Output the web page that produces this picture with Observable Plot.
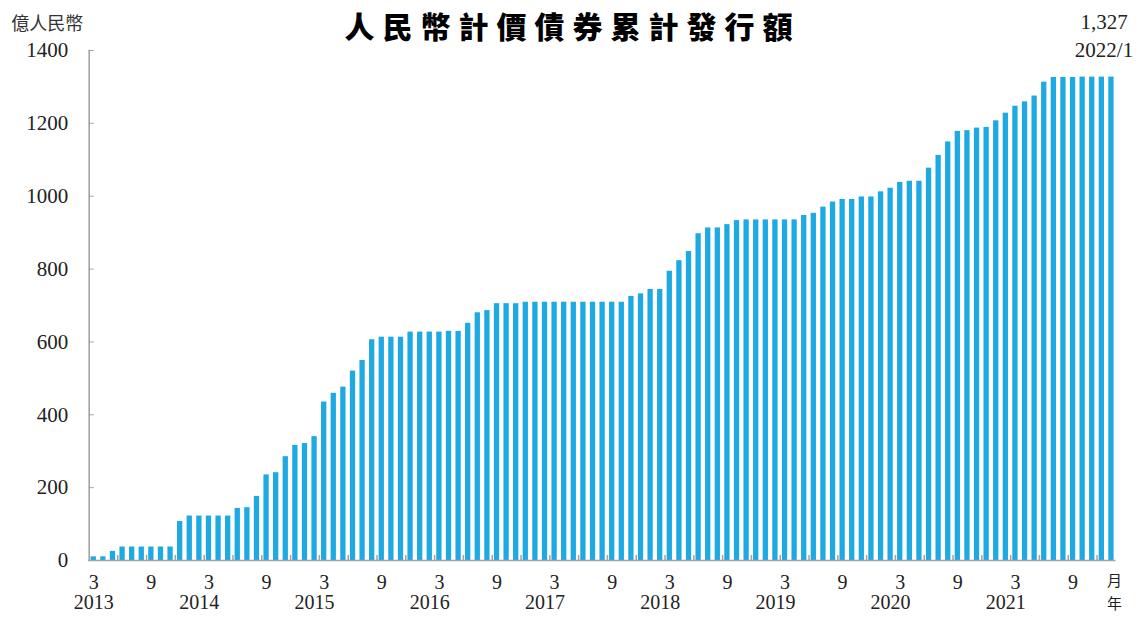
<!DOCTYPE html>
<html>
<head>
<meta charset="utf-8">
<script src="https://cdn.jsdelivr.net/npm/d3@7"></script>
<script src="https://cdn.jsdelivr.net/npm/@observablehq/plot@0.6"></script>
<style>
  html, body { margin: 0; padding: 0; background: #fff; }
  #chart { width: 1138px; height: 619px; overflow: hidden; }
</style>
</head>
<body>
<div id="chart"></div>
<script>
// Cumulative RMB-denominated bond issuance (億人民幣), monthly
const v2013 = [10, 10, 25, 37, 37, 37, 37, 37, 37, 107];            // Mar–Dec
const v2014 = [122, 122, 122, 122, 122, 143, 145, 176, 235, 241, 285, 316];
const v2015 = [321, 340, 435, 459, 476, 520, 549, 606, 613, 613, 613, 627];
const v2016 = [627, 627, 627, 629, 629, 651, 680, 686, 705, 705, 705, 709];
const v2017 = [709, 709, 709, 709, 709, 709, 709, 709, 709, 709, 725, 732];
const v2018 = [744, 744, 794, 823, 848, 897, 913, 913, 922, 933, 935, 935];
const v2019 = [935, 935, 935, 935, 947, 953, 970, 984, 991, 991, 998, 998];
const v2020 = [1012, 1022, 1038, 1041, 1041, 1077, 1112, 1149, 1178, 1180, 1187, 1189];
const v2021 = [1207, 1228, 1247, 1259, 1275, 1313, 1326, 1326, 1326, 1327, 1327, 1327];
const v2022 = [1327];                                                 // Jan

const seriesByYear = [
  [2013, 3, v2013], [2014, 1, v2014], [2015, 1, v2015], [2016, 1, v2016],
  [2017, 1, v2017], [2018, 1, v2018], [2019, 1, v2019], [2020, 1, v2020],
  [2021, 1, v2021], [2022, 1, v2022]
];

const yTicks = [0, 200, 400, 600, 800, 1000, 1200, 1400];
const monthLabelMonths = [3, 9];
const tickMonths = [3, 6, 9, 12];
const yearLabels = ["2013", "2014", "2015", "2016", "2017", "2018", "2019", "2020", "2021"];
const yearLabelKeys = ["2013/3", "2014/2", "2015/2", "2016/2", "2017/2", "2018/2", "2019/2", "2020/2", "2021/2"];

const titleText = "人民幣計價債券累計發行額";
const unitText = "億人民幣";
const lastValueText = "1,327";
const lastDateText = "2022/1";
const monthUnit = "月";
const yearUnit = "年";

const data = [];
for (const [yr, m0, vals] of seriesByYear) {
  vals.forEach((v, i) => data.push({year: yr, month: m0 + i, key: `${yr}/${m0 + i}`, value: v}));
}
const keys = data.map(d => d.key);
const monthLabelData = data.filter(d => monthLabelMonths.includes(d.month));
const tickData = data.filter((d, i) => i > 0 && tickMonths.includes(d.month));
const yearLabelData = yearLabels.map((t, i) => ({text: t, key: yearLabelKeys[i]}));

const serif = "'Liberation Serif', 'Times New Roman', serif";
const cjk = "'Noto Sans CJK TC', 'Noto Sans CJK SC', sans-serif";
const axisGray = "#a3a3a3";
const barColor = "#1ea9e2";

const chart = Plot.plot({
  width: 1138,
  height: 619,
  marginLeft: 88.7,
  marginRight: 22.5,
  marginTop: 50,
  marginBottom: 59,
  x: {type: "band", domain: keys, paddingInner: 0.45, paddingOuter: 0.2, axis: null},
  y: {domain: [0, 1400], axis: null},
  style: {fontFamily: serif, background: "#fff", color: "#222", overflow: "visible"},
  marks: [
    Plot.barY(data, {x: "key", y: "value", fill: barColor}),
    Plot.ruleX(tickData, {x: "key", dx: -4.8, y1: 0, y2: 14, stroke: axisGray, strokeWidth: 1.5}),
    Plot.ruleY([0], {stroke: axisGray, strokeWidth: 1.6}),
    Plot.frame({anchor: "left", stroke: axisGray, strokeWidth: 1.6}),
    Plot.axisY(yTicks, {
      anchor: "left", label: null, tickSize: -5, tickPadding: 26, stroke: axisGray, fill: "#222",
      fontSize: 21, tickFormat: d => String(d), fontFamily: serif
    }),
    Plot.text(monthLabelData, {
      x: "key", text: d => String(d.month), frameAnchor: "bottom", dy: 28,
      fontSize: 20, fill: "#222", fontFamily: serif
    }),
    Plot.text(yearLabelData, {
      x: "key", text: "text", frameAnchor: "bottom", dy: 48,
      fontSize: 20, fill: "#222", fontFamily: serif
    }),
    Plot.text([monthUnit], {text: d => d, frameAnchor: "bottom-right", dx: 6, dy: 25, fontSize: 15, fontFamily: cjk, fill: "#222"}),
    Plot.text([yearUnit], {text: d => d, frameAnchor: "bottom-right", dx: 6, dy: 48, fontSize: 15, fontFamily: cjk, fill: "#222"}),
    Plot.text([unitText], {text: d => d, frameAnchor: "top-left", textAnchor: "start", dx: -78, dy: -33, fontSize: 18, fontFamily: cjk, fill: "#333"}),
    Plot.text([lastValueText], {text: d => d, frameAnchor: "top-right", textAnchor: "middle", dx: -12, dy: -36, fontSize: 21, fontFamily: serif, fill: "#222"}),
    Plot.text([lastDateText], {text: d => d, frameAnchor: "top-right", textAnchor: "middle", dx: -12, dy: -8, fontSize: 21, fontFamily: serif, fill: "#222"}),
    Plot.text([titleText], {text: d => d, frameAnchor: "top", dx: -30, dy: -34, fontSize: 30, fontWeight: 900, fontFamily: cjk, fill: "#000"})
  ]
});

document.getElementById("chart").appendChild(chart);
// letter spacing for the title
d3.select(chart).selectAll("text").filter(function() { return this.textContent === titleText; })
  .style("letter-spacing", "8px");
</script>
</body>
</html>
